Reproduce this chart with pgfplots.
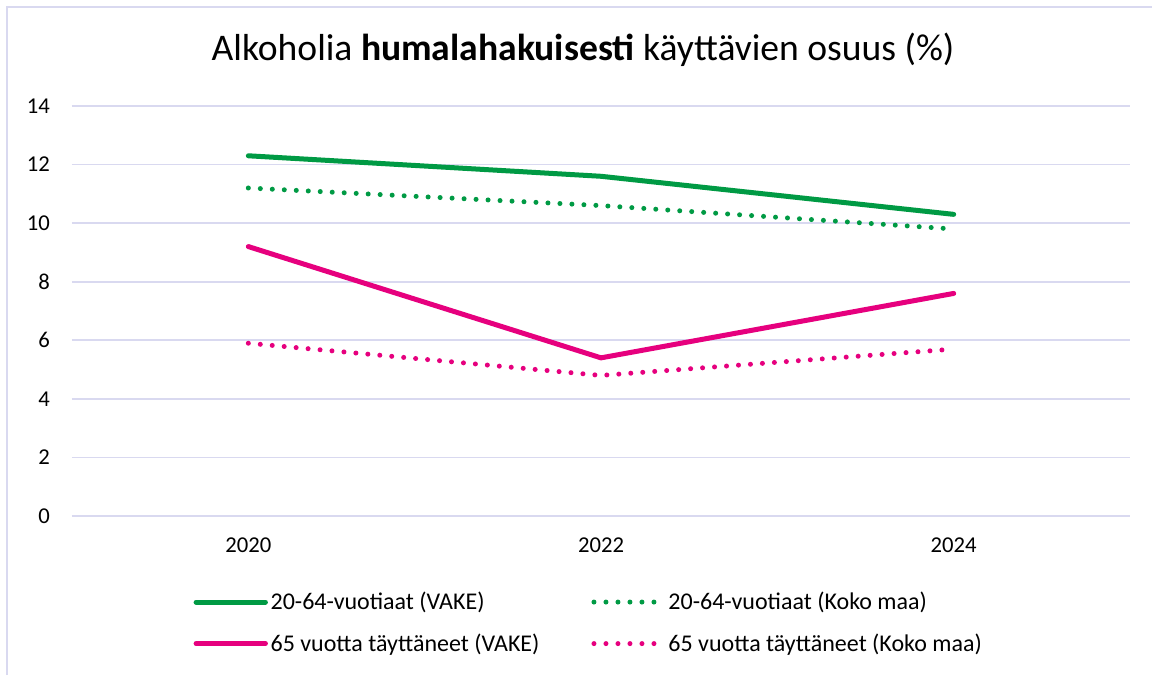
\documentclass[border=0pt]{standalone}
\usepackage{pgfplots}
\pgfplotsset{compat=1.18}
\usepackage{fontspec}
\setmainfont{Carlito}
\definecolor{vgreen}{RGB}{0,154,68}
\definecolor{vpink}{RGB}{230,0,126}
\definecolor{gridc}{RGB}{217,217,240}
\begin{document}
\begin{tikzpicture}
\useasboundingbox (-54pt,-119.25pt) rectangle (810pt,387pt);
\fill[white] (-54pt,-119.25pt) rectangle (810pt,387pt);
\draw[gridc, line width=1.5pt] (-48.75pt,-119.25pt) -- (-48.75pt,381.75pt) -- (810pt,381.75pt);
\begin{axis}[
  at={(0pt,0pt)}, anchor=south west,
  scale only axis,
  width=793.5pt, height=307.5pt,
  xmin=-0.5, xmax=2.5, ymin=0, ymax=14,
  xtick={0,1,2}, xticklabels={2020,2022,2024},
  ytick={0,2,...,14},
  axis line style={draw=none},
  major tick length=0pt,
  ymajorgrids, xmajorgrids=false,
  major grid style={draw=gridc, line width=1.2pt},
  tick label style={font=\fontsize{17}{20}\selectfont, text=black},
  /pgf/number format/assume math mode=true,
  yticklabel style={xshift=-13pt},
  xticklabel style={yshift=-13pt},
  legend columns=2,
  legend style={draw=none, fill=none, at={(88pt,-53pt)}, anchor=north west,
    font=\fontsize{18}{21}\selectfont, row sep=12.5pt,
    /tikz/every even column/.append style={column sep=37pt},
    legend cell align=left},
  legend image code/.code={\draw[#1] (0pt,0pt) -- (52pt,0pt);},
]
\addplot[vgreen, line width=3.75pt, line cap=round] coordinates {(0,12.3) (1,11.6) (2,10.3)};
\addlegendentry{20-64-vuotiaat (VAKE)}
\addplot[vgreen, line width=3.75pt, line cap=round, dash pattern=on 0pt off 9pt] coordinates {(0,11.2) (1,10.6) (2,9.8)};
\addlegendentry{20-64-vuotiaat (Koko maa)}
\addplot[vpink, line width=3.75pt, line cap=round] coordinates {(0,9.2) (1,5.4) (2,7.6)};
\addlegendentry{65 vuotta täyttäneet (VAKE)}
\addplot[vpink, line width=3.75pt, line cap=round, dash pattern=on 0pt off 9pt] coordinates {(0,5.9) (1,4.8) (2,5.7)};
\addlegendentry{65 vuotta täyttäneet (Koko maa)}
\end{axis}
\node[font=\fontsize{28.2}{33}\selectfont] at (383.25pt,349.5pt) {Alkoholia \textbf{humalahakuisesti} käyttävien osuus (\%)};
\end{tikzpicture}
\end{document}
